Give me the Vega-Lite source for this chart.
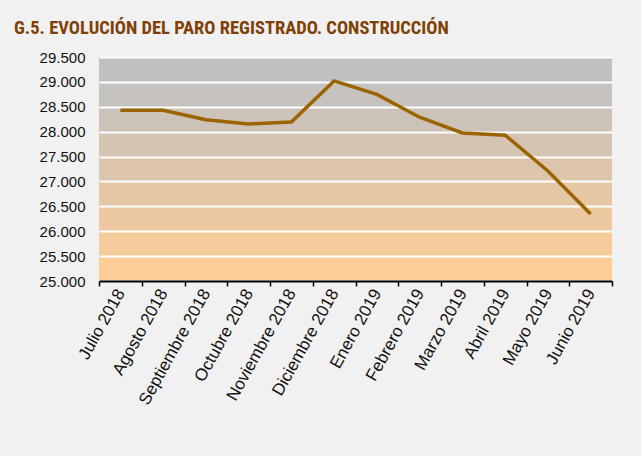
{
  "$schema": "https://vega.github.io/schema/vega-lite/v6.json",
  "width": 513,
  "height": 224,
  "autosize": {"type": "none"},
  "padding": {"left": 99, "top": 57, "right": 29, "bottom": 175},
  "background": "#f1f1f1",
  "config": {
    "locale": {"number": {"decimal": ",", "thousands": ".", "grouping": [3], "currency": ["", " €"]}},
    "view": {
      "stroke": null,
      "fill": {
        "gradient": "linear", "x1": 0, "y1": 0, "x2": 0, "y2": 1,
        "stops": [
          {"offset": 0, "color": "#c0c0c0"}, {"offset": 0.1111, "color": "#c0c0c0"},
          {"offset": 0.1111, "color": "#c6c2be"}, {"offset": 0.2222, "color": "#c6c2be"},
          {"offset": 0.2222, "color": "#cdc2b8"}, {"offset": 0.3333, "color": "#cdc2b8"},
          {"offset": 0.3333, "color": "#d5c4b2"}, {"offset": 0.4444, "color": "#d5c4b2"},
          {"offset": 0.4444, "color": "#ddc5ac"}, {"offset": 0.5556, "color": "#ddc5ac"},
          {"offset": 0.5556, "color": "#e5c7a6"}, {"offset": 0.6667, "color": "#e5c7a6"},
          {"offset": 0.6667, "color": "#edc9a1"}, {"offset": 0.7778, "color": "#edc9a1"},
          {"offset": 0.7778, "color": "#f5cb9c"}, {"offset": 0.8889, "color": "#f5cb9c"},
          {"offset": 0.8889, "color": "#fccd98"}, {"offset": 1, "color": "#fccd98"}
        ]
      }
    }
  },
  "title": {
    "text": "G.5.  EVOLUCIÓN DEL PARO REGISTRADO. CONSTRUCCIÓN",
    "anchor": "start",
    "frame": "group",
    "dx": -85,
    "offset": -2,
    "baseline": "alphabetic",
    "font": "Roboto Condensed, Liberation Sans Narrow, DejaVu Sans Condensed, sans-serif",
    "fontSize": 18.5,
    "fontWeight": "bold",
    "color": "#7f4006"
  },
  "data": {
    "values": [
      {"mes": "Julio 2018", "parados": 28430},
      {"mes": "Agosto 2018", "parados": 28430},
      {"mes": "Septiembre 2018", "parados": 28240},
      {"mes": "Octubre 2018", "parados": 28155},
      {"mes": "Noviembre 2018", "parados": 28195},
      {"mes": "Diciembre 2018", "parados": 29020},
      {"mes": "Enero 2019", "parados": 28750},
      {"mes": "Febrero 2019", "parados": 28290},
      {"mes": "Marzo 2019", "parados": 27975},
      {"mes": "Abril 2019", "parados": 27930},
      {"mes": "Mayo 2019", "parados": 27210},
      {"mes": "Junio 2019", "parados": 26345}
    ]
  },
  "mark": {"type": "line", "color": "#9a6400", "strokeWidth": 3.5, "strokeCap": "butt"},
  "encoding": {
    "x": {
      "field": "mes",
      "type": "nominal",
      "sort": null,
      "scale": {"type": "band", "paddingInner": 0, "paddingOuter": 0},
      "axis": {
        "title": null,
        "labelAngle": -61,
        "labelAlign": "right",
        "labelBaseline": "middle",
        "labelFont": "Liberation Sans, Arial, sans-serif",
        "labelFontSize": 17,
        "labelColor": "#111111",
        "labelPadding": 4,
        "tickBand": "extent",
        "tickColor": "#000000",
        "tickSize": 5,
        "tickWidth": 1.5,
        "domainColor": "#000000",
        "domainWidth": 2,
        "grid": false
      }
    },
    "y": {
      "field": "parados",
      "type": "quantitative",
      "scale": {"domain": [25000, 29500], "nice": false, "zero": false},
      "axis": {
        "title": null,
        "values": [25000, 25500, 26000, 26500, 27000, 27500, 28000, 28500, 29000, 29500],
        "format": ",d",
        "labelFont": "Liberation Sans, Arial, sans-serif",
        "labelFontSize": 15,
        "labelColor": "#111111",
        "labelPadding": 14,
        "ticks": false,
        "domain": false,
        "grid": true,
        "gridColor": "#ffffff",
        "gridWidth": 2,
        "gridOpacity": 1
      }
    }
  }
}
